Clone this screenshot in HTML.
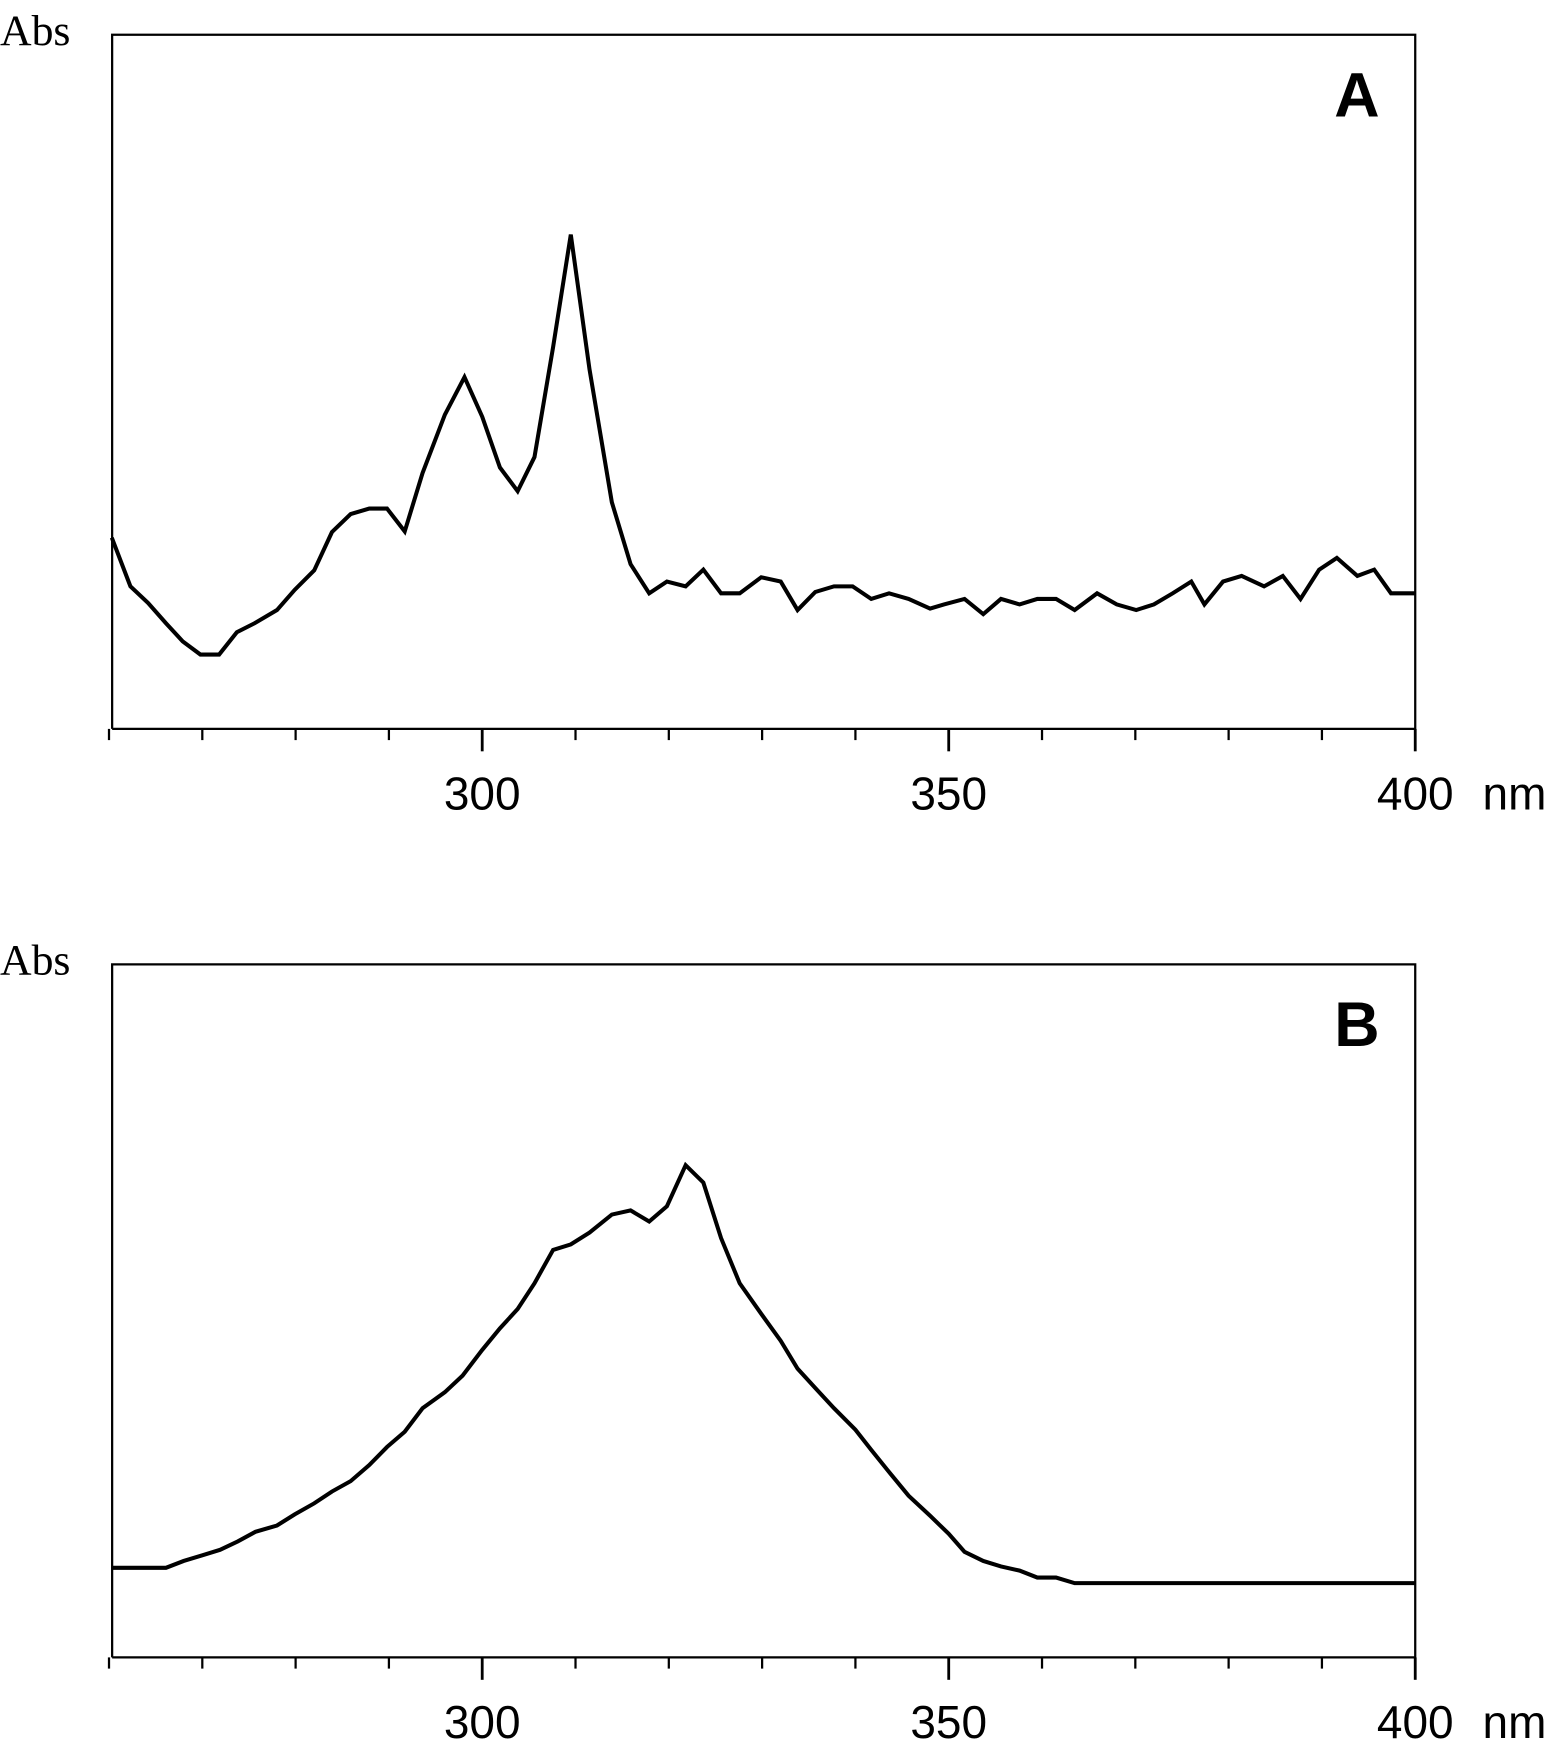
<!DOCTYPE html>
<html><head><meta charset="utf-8"><style>
html,body{margin:0;padding:0;background:#fff;}
svg{display:block;}
</style></head><body>
<svg id="fig" width="1559" height="1760" viewBox="0 0 1390.2 1569.5" preserveAspectRatio="none" xmlns="http://www.w3.org/2000/svg"></svg>
<script>
const wlA=[260.3,262.3,264.2,266.1,267.9,269.8,271.8,273.7,275.6,278.0,279.9,282.0,283.9,285.9,287.9,289.8,291.7,293.6,296.0,298.1,300,301.9,303.8,305.6,307.6,309.5,311.5,313.9,315.9,317.9,319.8,321.8,323.7,325.6,327.6,329.9,332.0,333.8,335.7,337.7,339.7,341.7,343.6,345.7,348.0,349.5,351.7,353.7,355.6,357.6,359.5,361.5,363.5,365.9,368.0,370.1,372.0,374.0,376.0,377.4,379.4,381.4,383.8,385.8,387.7,389.7,391.6,393.8,395.6,397.4,400];
const absA=[27.5,20.5,18.1,15.2,12.6,10.7,10.7,13.9,15.2,17.1,20.0,22.8,28.3,30.9,31.7,31.7,28.4,36.8,45.2,50.6,44.9,37.6,34.2,39.1,54.9,71.1,51.7,32.6,23.7,19.5,21.2,20.5,22.9,19.5,19.5,21.8,21.2,17.1,19.7,20.5,20.5,18.7,19.5,18.7,17.3,17.9,18.7,16.5,18.7,17.9,18.7,18.7,17.1,19.5,17.9,17.1,17.9,19.5,21.2,17.9,21.2,22.0,20.5,22.0,18.7,22.9,24.6,22.0,22.9,19.5,19.5];
const wlB=[260.3,266.1,268.0,270.0,271.9,273.8,275.7,278.0,279.9,282.0,283.9,285.9,287.9,289.8,291.7,293.6,296.0,297.9,300,301.9,303.8,305.6,307.6,309.5,311.5,313.9,315.9,317.9,319.8,321.8,323.7,325.6,327.6,329.9,332.0,333.8,335.7,337.7,340.0,341.7,343.6,345.7,348.0,350.0,351.7,353.7,355.6,357.6,359.5,361.5,363.5,400];
const absB=[12.9,12.9,13.9,14.7,15.5,16.7,18.1,19.0,20.6,22.2,23.9,25.4,27.7,30.3,32.5,35.9,38.2,40.6,44.3,47.4,50.2,53.9,58.7,59.5,61.2,63.8,64.4,62.8,65.0,70.9,68.4,60.4,53.9,49.5,45.6,41.6,38.8,35.9,32.8,29.9,26.7,23.3,20.4,17.8,15.2,13.9,13.1,12.5,11.5,11.5,10.7,10.7];
const minorTicks=[260,270,280,290,310,320,330,340,360,370,380,390];
const majorTicks=[300,350,400];
const NS='http://www.w3.org/2000/svg';
const svg=document.getElementById('fig');
const X0=100,X1=1262;
function xs(w){return 430+(w-300)*8.32;}
function mk(tag,attrs){const e=document.createElementNS(NS,tag);for(const k in attrs)e.setAttribute(k,attrs[k]);svg.appendChild(e);return e;}
function panel(top,bottom,wl,ab,letter,id){
  const h=bottom-top;
  function ys(v){return bottom-v/100*(h+1);}
  const box=mk('path',{d:`M${X0} ${bottom}V${top}H${X1}V${bottom}H${X0}`,fill:'none',stroke:'#000','stroke-width':2});
  
  
  minorTicks.forEach(t=>{const l=mk('line',{x1:xs(t),x2:xs(t),y1:bottom,y2:bottom+10,stroke:'#000','stroke-width':2});
    
    });
  majorTicks.forEach(t=>{const l=mk('line',{x1:xs(t),x2:xs(t),y1:bottom,y2:bottom+20,stroke:'#000','stroke-width':2.5});
    
    
    const tx=mk('text',{x:xs(t),y:bottom+72,'text-anchor':'middle','font-family':'Liberation Sans, sans-serif','font-size':41});
    tx.textContent=t;
    
    });
  const nm=mk('text',{x:1322,y:bottom+72,'font-family':'Liberation Sans, sans-serif','font-size':41});
  nm.textContent='nm';
  
  
  const abs=mk('text',{x:0,y:top+9,'font-family':'Liberation Serif, serif','font-size':39});
  abs.textContent='Abs';
  
  
  const L=mk('text',{x:1210,y:top+73,'text-anchor':'middle','font-family':'Liberation Sans, sans-serif','font-size':56,'font-weight':'bold'});
  L.textContent=letter;
  
  
  const pts=wl.map((w,i)=>xs(w).toFixed(1)+','+ys(ab[i]).toFixed(1)).join(' ');
  const pl=mk('polyline',{points:pts,fill:'none',stroke:'#000','stroke-width':3.6,'stroke-linejoin':'miter'});
  
  
}
panel(31,650,wlA,absA,'A','panel-a');
panel(860,1478,wlB,absB,'B','panel-b');
</script>
</body></html>
